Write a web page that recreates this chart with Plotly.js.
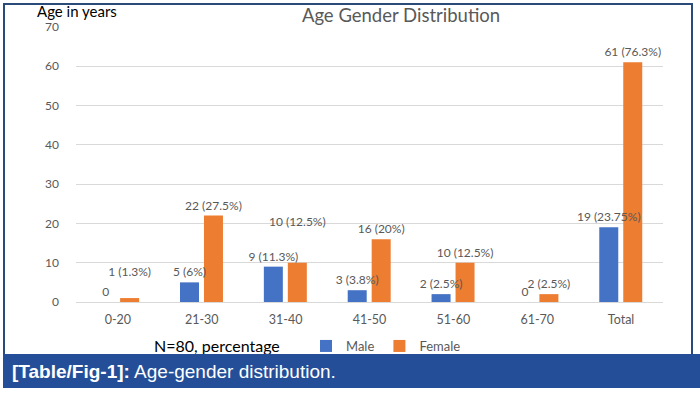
<!DOCTYPE html>
<html>
<head>
<meta charset="utf-8">
<script src="https://cdn.plot.ly/plotly-3.0.1.min.js"></script>
<style>
  html, body { margin: 0; padding: 0; background: #ffffff; }
  #wrap { position: relative; width: 700px; height: 394px; overflow: hidden; background: #fff; }
  #chart { position: absolute; left: 0; top: 0; width: 700px; height: 394px; }
  #frame { position: absolute; left: 3px; top: 3px; width: 690px; height: 360px; border: 2px solid #2a4a7a; border-bottom: none; pointer-events: none; box-sizing: border-box; }
  #band { position: absolute; left: 3px; top: 354px; width: 697px; height: 34px; background: #244f98; color: #ffffff;
          font-family: "Liberation Sans", Arial, sans-serif; font-size: 19px; line-height: 35px; padding-left: 9px; box-sizing: border-box; white-space: nowrap; }
  #band b { font-weight: bold; }
</style>
</head>
<body>
<div id="wrap">
  <div id="chart"></div>
  <div id="frame"></div>
  <div id="band"><b>[Table/Fig-1]:</b> Age-gender distribution.</div>
</div>
<script>
// ---- data ----
const categories = ['0-20', '21-30', '31-40', '41-50', '51-60', '61-70', 'Total'];
const maleValues = [0, 5, 9, 3, 2, 0, 19];
const femaleValues = [1, 22, 10, 16, 10, 2, 61];
const maleLabels = ['0', '5 (6%)', '9 (11.3%)', '3 (3.8%)', '2 (2.5%)', '0', '19 (23.75%)'];
const femaleLabels = ['1 (1.3%)', '22 (27.5%)', '10 (12.5%)', '16 (20%)', '10 (12.5%)', '2 (2.5%)', '61 (76.3%)'];
const yTickValues = [0, 10, 20, 30, 40, 50, 60, 70];

// labels moved up in the original to avoid overlaps (number of extra blank lines)
const femaleLabelLift = [1, 0, 2, 0, 0, 0, 0];
const femaleText = femaleLabels.map((t, i) => t + '<br>\u00a0'.repeat(femaleLabelLift[i]));

const labelFont = { family: 'Lato, "Open Sans", sans-serif', size: 12, color: '#595959' };
const barWidth = 0.2266;

// Female drawn first so that the Male labels sit on top of the Female bars, as in the original
const traces = [
  {
    type: 'bar', name: 'Female', x: categories, y: femaleValues,
    marker: { color: '#ED7D31' }, width: barWidth, offset: 0.026, legendrank: 2,
    text: femaleText, textposition: 'outside', textfont: labelFont,
    constraintext: 'none', cliponaxis: false, hoverinfo: 'none'
  },
  {
    type: 'bar', name: 'Male', x: categories, y: maleValues,
    marker: { color: '#4472C4' }, width: barWidth, offset: -0.26, legendrank: 1,
    text: maleLabels, textposition: 'outside', textfont: labelFont,
    constraintext: 'none', cliponaxis: false, hoverinfo: 'none'
  }
];

const layout = {
  width: 700, height: 394,
  margin: { l: 76, r: 37, t: 27, b: 92 },
  paper_bgcolor: 'rgba(0,0,0,0)', plot_bgcolor: '#ffffff',
  barmode: 'overlay',
  font: { family: 'Lato, "Open Sans", sans-serif', color: '#595959' },
  title: {
    text: 'Age Gender Distribution',
    x: 401 / 700, xanchor: 'center', y: 1 - 16 / 394, yanchor: 'middle',
    font: { family: 'Lato, "Open Sans", sans-serif', size: 18.5, color: '#595959' }
  },
  xaxis: {
    type: 'category', showgrid: false, zeroline: false,
    showline: false, ticks: '',
    tickfont: { family: 'Lato, "Open Sans", sans-serif', size: 12.5, color: '#595959' },
    ticklabelstandoff: 8
  },
  yaxis: {
    range: [0, 70], tickvals: yTickValues, ticktext: yTickValues.map(String),
    showgrid: true, gridcolor: '#d9d9d9', gridwidth: 1,
    zeroline: true, zerolinecolor: '#d9d9d9', zerolinewidth: 1,
    showline: false, ticks: '',
    tickfont: { family: 'Lato, "Open Sans", sans-serif', size: 12, color: '#595959' },
    ticklabelstandoff: 16
  },
  showlegend: true,
  legend: {
    orientation: 'h', x: (306 - 76) / 587, xanchor: 'left',
    y: (302 - 346) / 275, yanchor: 'middle',
    font: { family: 'Lato, "Open Sans", sans-serif', size: 13, color: '#595959' },
    bgcolor: 'rgba(0,0,0,0)', itemwidth: 30, traceorder: 'normal'
  },
  annotations: [
    {
      text: 'Age in years', xref: 'paper', yref: 'paper',
      x: (35 - 76) / 587, xanchor: 'left', y: (302 - 11) / 275, yanchor: 'middle',
      showarrow: false, font: { family: 'Lato, "Open Sans", sans-serif', size: 15, color: '#000000' }
    },
    {
      text: 'N=80, percentage', xref: 'paper', yref: 'paper',
      x: (217 - 76) / 587, xanchor: 'center', y: (302 - 345) / 275, yanchor: 'middle',
      showarrow: false, font: { family: 'Lato, "Open Sans", sans-serif', size: 16, color: '#000000' }
    }
  ]
};

Plotly.newPlot('chart', traces, layout, { displayModeBar: false, staticPlot: true });
</script>
</body>
</html>
